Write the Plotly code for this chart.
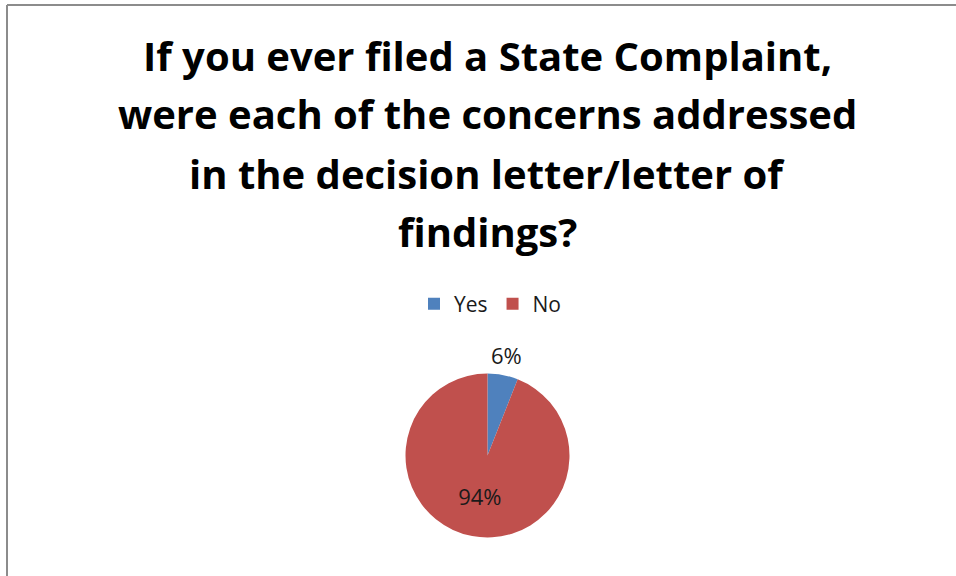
import math
import plotly.graph_objects as go

labels = ["Yes", "No"]
values = [6, 94]
colors = ["#4F81BD", "#C0504D"]
title_lines = [
    "If you ever filed a State Complaint,",
    "were each of the concerns addressed",
    "in the decision letter/letter of",
    "findings?",
]

W, H = 956, 576
CX, CY, R = 487.5, 455.5, 82  # pie centre / radius in pixels (layout)

def py(p):
    return 1 - p / H

fig = go.Figure()
fig.add_trace(go.Pie(
    labels=labels,
    values=values,
    marker=dict(colors=colors, line=dict(width=0)),
    sort=False,
    direction="clockwise",
    rotation=0,
    texttemplate="%{percent:.0%}",
    textposition=["none", "inside"],
    insidetextorientation="horizontal",
    textfont=dict(family="Open Sans", size=22, color="#1a1a1a"),
    domain=dict(x=[(CX - R) / W, (CX + R) / W], y=[py(CY + R), py(CY - R)]),
    hoverinfo="label+percent",
    showlegend=True,
))

# outside label for the small slice, placed at the slice's mid-angle
total = sum(values)
mid = values[0] / total / 2 * 2 * math.pi
lr = R + 20
fig.add_annotation(
    text=f"{values[0] / total:.0%}", x=(CX + lr * math.sin(mid)) / W, y=py(CY - lr * math.cos(mid)),
    xref="paper", yref="paper", xanchor="center", yanchor="middle", showarrow=False,
    font=dict(family="Open Sans", size=22, color="#1a1a1a"),
)

title_centers = [56, 114, 173, 231]
for line, cy in zip(title_lines, title_centers):
    fig.add_annotation(
        text=f"<b>{line}</b>", x=487 / W, y=py(cy), xref="paper", yref="paper",
        xanchor="center", yanchor="middle", showarrow=False,
        font=dict(family="Open Sans", size=40, color="#000000"),
    )

# chart frame: only left and top edges fall inside the window
border = dict(color="#8c8c8c", width=2)
fig.add_shape(type="line", xref="paper", yref="paper", x0=7 / W, x1=7 / W, y0=0, y1=py(5), line=border)
fig.add_shape(type="line", xref="paper", yref="paper", x0=7 / W, x1=1, y0=py(5), y1=py(5), line=border)

fig.update_layout(
    width=W, height=H,
    margin=dict(l=0, r=0, t=0, b=0),
    paper_bgcolor="white",
    plot_bgcolor="white",
    legend=dict(
        orientation="h", x=490 / W, xanchor="center", y=py(304), yanchor="middle",
        font=dict(family="Open Sans", size=21, color="#1a1a1a"),
        itemwidth=30, tracegroupgap=0,
    ),
)

fig.write_html(
    "out.html",
    config={"displayModeBar": False},
    post_script="document.body.style.margin='0';document.body.style.overflow='hidden';",
)
